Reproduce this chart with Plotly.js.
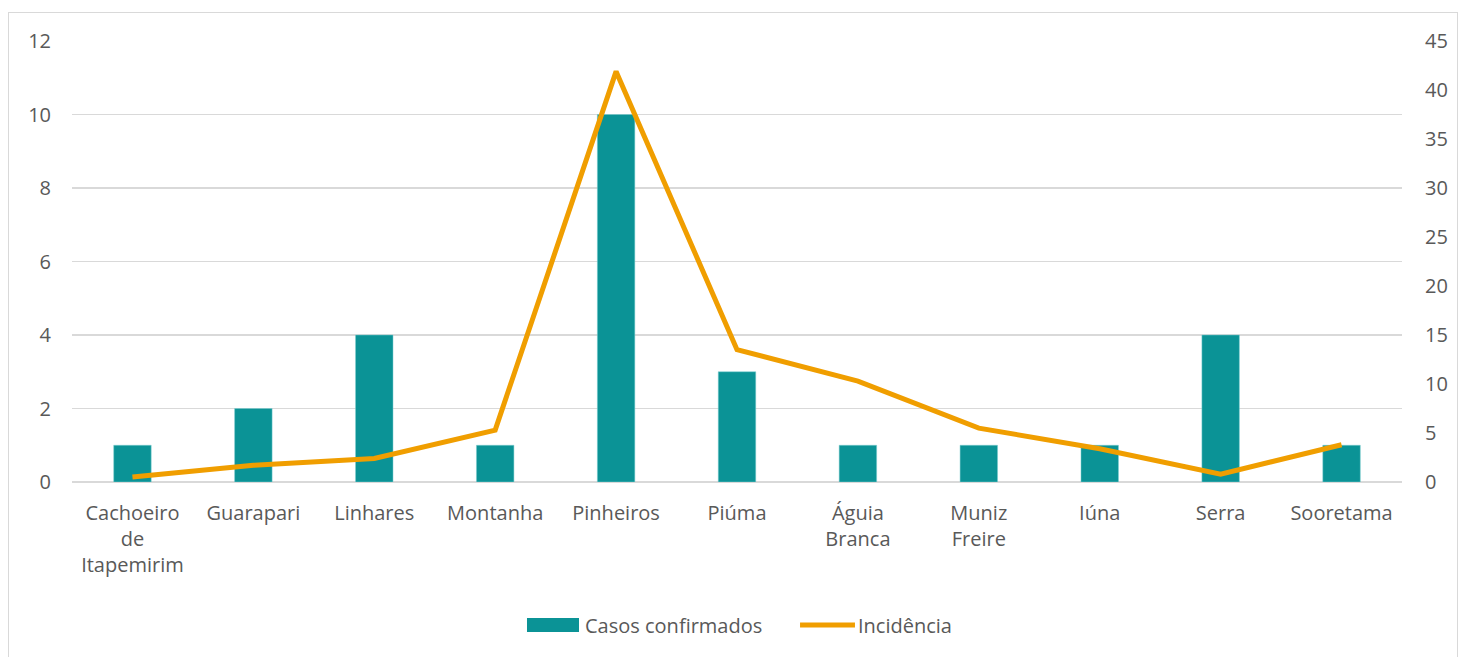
<!DOCTYPE html>
<html>
<head>
<meta charset="utf-8">
<script src="https://cdn.plot.ly/plotly-3.0.1.min.js"></script>
<style>
  html, body { margin: 0; padding: 0; background: #ffffff; }
  #frame { position: absolute; left: 8px; top: 12px; width: 1450px; height: 645px; border: 1px solid #d9d9d9; box-sizing: border-box; }
  #chart { position: absolute; left: 0; top: 0; width: 1448px; height: 644px; }
</style>
</head>
<body>
<div id="frame"><div id="chart"></div></div>
<script>
const categories = ["Cachoeiro<br>de<br>Itapemirim", "Guarapari", "Linhares", "Montanha", "Pinheiros", "Piúma", "Águia<br>Branca", "Muniz<br>Freire", "Iúna", "Serra", "Sooretama"];
const casosConfirmados = [1, 2, 4, 1, 10, 3, 1, 1, 1, 4, 1];
const incidencia = [0.5, 1.7, 2.4, 5.3, 41.9, 13.5, 10.3, 5.5, 3.4, 0.8, 3.8];
const leftTicks = [0, 2, 4, 6, 8, 10, 12];
const rightTicks = [0, 5, 10, 15, 20, 25, 30, 35, 40, 45];
const seriesNames = ["Casos confirmados", "Incidência"];

const fontFam = "Open Sans, Noto Sans, sans-serif";
const txt = "#595959";
const teal = "#0b9396";
const orange = "#f09e00";

const traces = [
  {
    type: "bar", name: seriesNames[0], x: categories, y: casosConfirmados,
    marker: { color: teal, line: { color: "#7fcfd0", width: 0.5 } },
    yaxis: "y"
  },
  {
    type: "scatter", mode: "lines", name: seriesNames[1], x: categories, y: incidencia,
    line: { color: orange, width: 5 },
    yaxis: "y2"
  }
];

const layout = {
  width: 1448, height: 644,
  margin: { l: 63, r: 55, t: 28, b: 175, autoexpand: false },
  paper_bgcolor: "#ffffff", plot_bgcolor: "#ffffff",
  font: { family: fontFam, size: 20, color: txt },
  bargap: 0.69,
  showlegend: false,
  xaxis: { type: "category", automargin: false, showgrid: false, showline: false, ticks: "", tickfont: { size: 20, color: txt }, ticklabelstandoff: 17 },
  yaxis: { range: [0, 12], automargin: false, tickvals: leftTicks, ticktext: leftTicks.map(String), showgrid: true, gridcolor: "#d9d9d9", gridwidth: 1.5,
           zeroline: true, zerolinecolor: "#d9d9d9", zerolinewidth: 1.5, showline: false, ticks: "", ticklabelstandoff: 20,
           tickfont: { size: 20, color: txt } },
  yaxis2: { range: [0, 45], automargin: false, tickvals: rightTicks, ticktext: rightTicks.map(String), overlaying: "y", side: "right",
            showgrid: false, zeroline: false, showline: false, ticks: "", ticklabelstandoff: 22,
            tickfont: { size: 20, color: txt } },
  shapes: [
    { type: "rect", xref: "paper", yref: "paper", x0: 0.3421, x1: 0.3812, y0: -0.3084, y1: -0.3401,
      fillcolor: teal, line: { width: 0 } },
    { type: "line", xref: "paper", yref: "paper", x0: 0.5474, x1: 0.5887, y0: -0.3243, y1: -0.3243,
      line: { color: orange, width: 5 } }
  ],
  annotations: [
    { xref: "paper", yref: "paper", x: 0.3842, y: -0.3243, xanchor: "left", yanchor: "middle", showarrow: false,
      text: seriesNames[0], font: { size: 20, color: txt } },
    { xref: "paper", yref: "paper", x: 0.5895, y: -0.3243, xanchor: "left", yanchor: "middle", showarrow: false,
      text: seriesNames[1], font: { size: 20, color: txt } }
  ]
};

Plotly.newPlot("chart", traces, layout, { displayModeBar: false, staticPlot: true });
</script>
</body>
</html>
